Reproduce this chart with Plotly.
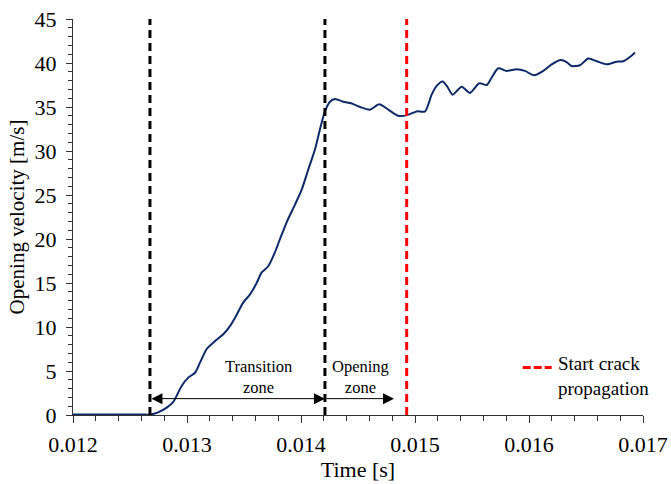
import plotly.graph_objects as go

# ---- data ----
time_s = [0.0120, 0.0122, 0.0124, 0.0126, 0.01268, 0.012746, 0.012822, 0.01288, 0.012953,
          0.013011, 0.01307, 0.013114, 0.013173, 0.013246, 0.01332, 0.013377, 0.013436,
          0.013494, 0.013553, 0.013611, 0.013655, 0.013713, 0.01377, 0.013816, 0.013874,
          0.013947, 0.014006, 0.014064, 0.014123, 0.014167, 0.01421, 0.014254, 0.014298,
          0.014371, 0.014445, 0.014518, 0.014605, 0.014687, 0.014766, 0.014854, 0.014927,
          0.015015, 0.015088, 0.015146, 0.01519, 0.015243, 0.015284, 0.01533, 0.015409,
          0.015482, 0.015564, 0.015629, 0.015673, 0.015731, 0.015804, 0.015892, 0.015965,
          0.016044, 0.016126, 0.016199, 0.016278, 0.01633, 0.016374, 0.016447, 0.01652,
          0.016594, 0.016682, 0.016769, 0.016827, 0.016877, 0.01693]
velocity = [0.05, 0.05, 0.05, 0.05, 0.05, 0.3, 0.84, 1.5, 3.3,
            4.25, 4.8, 5.95, 7.5, 8.4, 9.2, 10.1, 11.4,
            12.8, 13.7, 15.0, 16.2, 16.9, 18.45, 20.0, 21.9,
            23.9, 25.6, 27.9, 30.2, 32.5, 34.5, 35.6, 35.9,
            35.6, 35.4, 35.0, 34.7, 35.3, 34.7, 34.0, 34.05,
            34.5, 34.5, 36.4, 37.4, 37.9, 37.3, 36.4, 37.3,
            36.6, 37.7, 37.5, 38.35, 39.4, 39.1, 39.3, 39.1,
            38.6, 39.1, 39.85, 40.35, 40.1, 39.65, 39.75, 40.5,
            40.2, 39.85, 40.15, 40.2, 40.6, 41.2]
assert len(time_s) == len(velocity)

zone_times = [0.012675, 0.01421]       # start transition, start opening
opening_end = 0.014816                  # end of "Opening zone" arrow
crack_time = 0.014927                   # start crack propagation
x_ticks = [0.012, 0.013, 0.014, 0.015, 0.016, 0.017]
y_ticks = [0, 5, 10, 15, 20, 25, 30, 35, 40, 45]

FONT = "Liberation Serif, Times New Roman, serif"
NAVY = "#0c2a68"

fig = go.Figure()
fig.add_trace(go.Scatter(x=time_s, y=velocity, mode="lines",
                         line=dict(color=NAVY, width=2, shape="spline", smoothing=0.7),
                         showlegend=False, hoverinfo="skip"))

shapes = []
for t in zone_times:
    shapes.append(dict(type="line", xref="x", yref="paper", x0=t, x1=t, y0=0, y1=1,
                       line=dict(color="black", width=3, dash="8px,5px")))
shapes.append(dict(type="line", xref="x", yref="paper", x0=crack_time, x1=crack_time, y0=0, y1=1,
                   line=dict(color="#ff0000", width=3, dash="8px,5px")))
# legend key
shapes.append(dict(type="line", xref="x", yref="y", x0=0.015945, x1=0.016199, y0=5.39, y1=5.39,
                   line=dict(color="#ff0000", width=3, dash="8px,3px")))

arrow_y = 1.86
annotations = [
    dict(x=zone_times[1], y=arrow_y, ax=zone_times[0], ay=arrow_y, xref="x", yref="y",
         axref="x", ayref="y", text="", showarrow=True, arrowhead=2, startarrowhead=2,
         arrowside="end+start", arrowsize=2.2, startarrowsize=2.2, arrowwidth=1,
         arrowcolor="black", standoff=0, startstandoff=0),
    dict(x=opening_end, y=arrow_y, ax=zone_times[1], ay=arrow_y, xref="x", yref="y",
         axref="x", ayref="y", text="", showarrow=True, arrowhead=2, arrowsize=2.2,
         arrowwidth=1, arrowcolor="black", standoff=0),
]

def txt(x, y, s, size, xanchor="center", align="center"):
    return dict(x=x, y=y, xref="x", yref="y", text=s, showarrow=False,
                xanchor=xanchor, yanchor="middle", align=align,
                font=dict(family=FONT, size=size, color="black"))

annotations += [
    txt(0.01363, 4.3, "Transition<br>zone", 16.5),
    txt(0.01452, 4.3, "Opening<br>zone", 16.5),
    txt(0.01624, 4.4, "Start crack<br>propagation", 19, "left", "left"),
]

fig.update_layout(
    width=671, height=484,
    margin=dict(l=73, r=28, t=19, b=69),
    paper_bgcolor="white", plot_bgcolor="white",
    font=dict(family=FONT, color="black", size=20),
    shapes=shapes, annotations=annotations,
    showlegend=False,
)
fig.update_xaxes(
    range=[0.012, 0.017], tickvals=x_ticks, ticktext=[f"{v:.3f}" for v in x_ticks],
    automargin=False,
    showgrid=False, zeroline=False, showline=True, linecolor="#333", linewidth=1.3,
    ticks="outside", ticklen=7, tickwidth=1, tickcolor="#333",
    minor=dict(dtick=0.0002, ticks="outside", ticklen=5, tickwidth=1, tickcolor="#333", showgrid=False),
    tickfont=dict(family=FONT, size=22), ticklabelstandoff=2,
    title=dict(text="Time [s]", font=dict(family=FONT, size=22), standoff=6),
)
fig.update_yaxes(
    range=[0, 45], tickvals=y_ticks,
    automargin=False,
    showgrid=False, zeroline=False, showline=True, linecolor="#333", linewidth=1.3,
    ticks="outside", ticklen=6, tickwidth=1, tickcolor="#333",
    minor=dict(dtick=1, ticks="outside", ticklen=4, tickwidth=1, tickcolor="#333", showgrid=False),
    tickfont=dict(family=FONT, size=22), ticklabelstandoff=5,
    title=dict(text="Opening velocity [m/s]", font=dict(family=FONT, size=21), standoff=4),
)

fig.write_html("out.html")
